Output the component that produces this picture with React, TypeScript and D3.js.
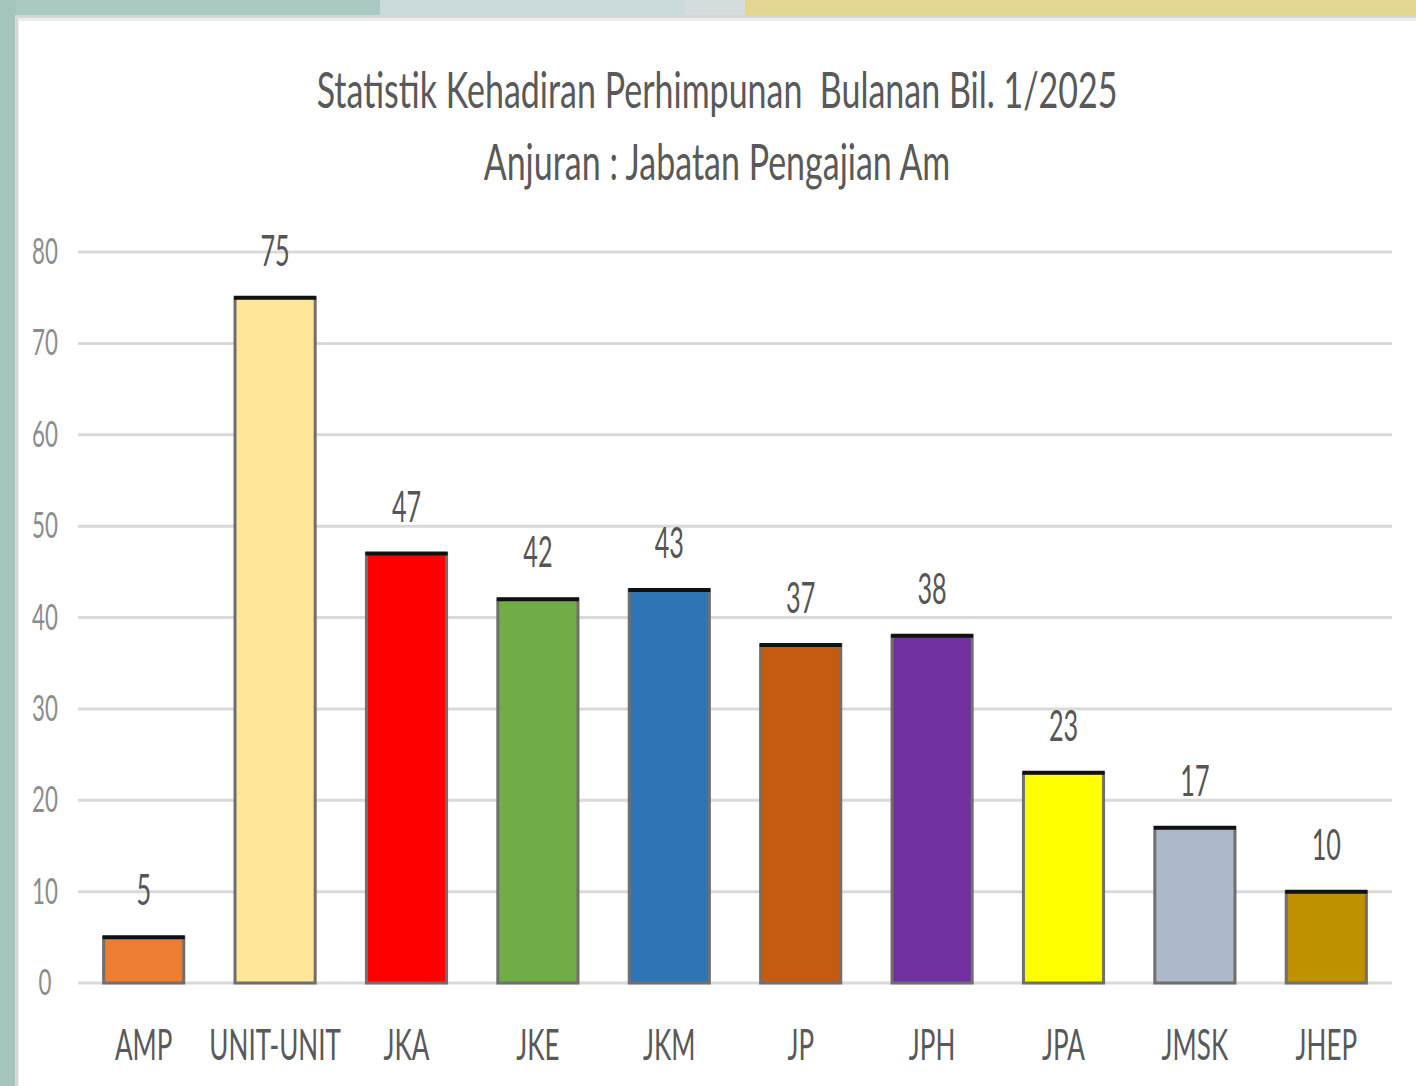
import { useEffect, useRef } from 'react';
import * as d3 from 'd3';

// Chart data
const categories = ['AMP', 'UNIT-UNIT', 'JKA', 'JKE', 'JKM', 'JP', 'JPH', 'JPA', 'JMSK', 'JHEP'];
const values = [5, 75, 47, 42, 43, 37, 38, 23, 17, 10];
const barColors = ['#ED7D31', '#FFE699', '#FF0000', '#70AD47', '#2E75B6', '#C55A11', '#7030A0', '#FFFF00', '#ADB9CA', '#BF9000'];
const yTicks = [0, 10, 20, 30, 40, 50, 60, 70, 80];
const titleLines = ['Statistik Kehadiran Perhimpunan \u00a0Bulanan Bil. 1/2025', 'Anjuran : Jabatan Pengajian Am'];

function App() {
  const d3Ref = useRef(null);
  const width = 1416;
  const height = 1086;

  useEffect(() => {
    const svg = d3.select(d3Ref.current);
    svg.selectAll('*').remove();

    const font = 'Lato, "Open Sans", sans-serif';

    // Backdrop behind the chart panel
    svg.append('rect').attr('x', 0).attr('y', 0).attr('width', 380).attr('height', 20).attr('fill', '#a9c9c2');
    svg.append('rect').attr('x', 380).attr('y', 0).attr('width', 305).attr('height', 20).attr('fill', '#c9dadb');
    svg.append('rect').attr('x', 685).attr('y', 0).attr('width', 60).attr('height', 20).attr('fill', '#d5dcdc');
    svg.append('rect').attr('x', 745).attr('y', 0).attr('width', 671).attr('height', 20).attr('fill', '#e3d690');
    svg.append('rect').attr('x', 0).attr('y', 0).attr('width', 16).attr('height', height).attr('fill', '#a3c4bd');

    // Panel
    svg.append('rect').attr('x', 15).attr('y', 15).attr('width', width - 15).attr('height', height - 15).attr('fill', '#d6d6d6');
    svg.append('rect').attr('x', 18).attr('y', 18).attr('width', width - 18).attr('height', height - 18).attr('fill', '#ececec');
    svg.append('rect').attr('x', 19).attr('y', 21).attr('width', width - 19).attr('height', height - 21).attr('fill', '#ffffff');

    // Scales
    const x = d3.scaleBand().domain(categories).range([78, 1392]).paddingInner(0.39).paddingOuter(0.195);
    const y = d3.scaleLinear().domain([0, 80]).range([983, 252]);

    // Title
    svg.selectAll('text.title')
      .data(titleLines)
      .enter()
      .append('text')
      .attr('class', 'title')
      .attr('text-anchor', 'middle')
      .attr('font-family', font)
      .attr('font-size', 50)
      .attr('fill', '#595959')
      .attr('transform', (_, i) => `translate(717, ${i === 0 ? 108 : 180}) scale(0.68, 1)`)
      .text((d) => d);

    // Gridlines
    svg.selectAll('line.grid')
      .data(yTicks)
      .enter()
      .append('line')
      .attr('class', 'grid')
      .attr('x1', 78)
      .attr('x2', 1392)
      .attr('y1', (d) => y(d))
      .attr('y2', (d) => y(d))
      .attr('stroke', '#d9d9d9')
      .attr('stroke-width', 3);

    // Y tick labels
    svg.selectAll('text.ytick')
      .data(yTicks)
      .enter()
      .append('text')
      .attr('class', 'ytick')
      .attr('text-anchor', 'middle')
      .attr('font-family', font)
      .attr('font-size', 36)
      .attr('fill', '#8c8c8c')
      .attr('transform', (d) => `translate(45, ${y(d) + 12}) scale(0.62, 1)`)
      .text((d) => d);

    const bars = categories.map((c, i) => ({ c, v: values[i], color: barColors[i] }));

    // Bars
    svg.selectAll('rect.bar')
      .data(bars)
      .enter()
      .append('rect')
      .attr('class', 'bar')
      .attr('x', (d) => x(d.c)!)
      .attr('y', (d) => y(d.v))
      .attr('width', x.bandwidth())
      .attr('height', (d) => y(0) - y(d.v))
      .attr('fill', (d) => d.color)
      .attr('stroke', '#6f6f6f')
      .attr('stroke-width', 3);

    // dark top edge of each bar
    svg.selectAll('line.top')
      .data(bars)
      .enter()
      .append('line')
      .attr('class', 'top')
      .attr('x1', (d) => x(d.c)! - 1)
      .attr('x2', (d) => x(d.c)! + x.bandwidth() + 1)
      .attr('y1', (d) => y(d.v))
      .attr('y2', (d) => y(d.v))
      .attr('stroke', '#111111')
      .attr('stroke-width', 4);

    // Value labels
    svg.selectAll('text.value')
      .data(bars)
      .enter()
      .append('text')
      .attr('class', 'value')
      .attr('text-anchor', 'middle')
      .attr('font-family', font)
      .attr('font-size', 42)
      .attr('fill', '#555555')
      .attr('transform', (d) => `translate(${x(d.c)! + x.bandwidth() / 2}, ${y(d.v) - 32}) scale(0.6, 1)`)
      .text((d) => d.v);

    // Category labels
    svg.selectAll('text.cat')
      .data(bars)
      .enter()
      .append('text')
      .attr('class', 'cat')
      .attr('text-anchor', 'middle')
      .attr('font-family', font)
      .attr('font-size', 42)
      .attr('fill', '#595959')
      .attr('transform', (d) => `translate(${x(d.c)! + x.bandwidth() / 2}, 1060) scale(0.62, 1)`)
      .text((d) => d.c);
  }, [d3Ref]);

  return (
    <div style={{ position: 'absolute', left: 0, top: 0 }}>
      <svg width={width} height={height} ref={d3Ref} style={{ display: 'block' }} />
    </div>
  );
}

export default App;
